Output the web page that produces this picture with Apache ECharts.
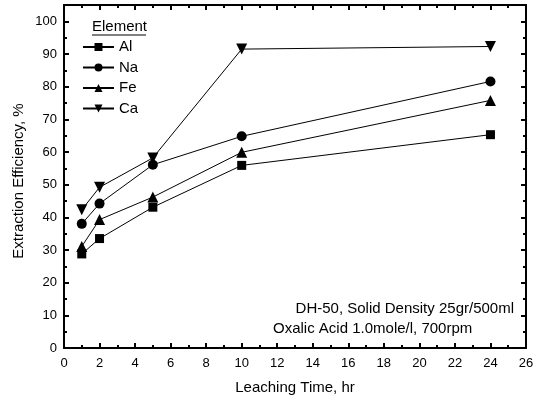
<!DOCTYPE html>
<html>
<head>
<meta charset="utf-8">
<script src="https://cdn.jsdelivr.net/npm/echarts@6/dist/echarts.min.js"></script>
<style>
  html, body { margin: 0; padding: 0; background: #fff; }
  #chart { width: 542px; height: 401px; }
</style>
</head>
<body>
<div id="chart"></div>
<script>
// leaching time (hr)
var hours = [1, 2, 5, 10, 24];

// extraction efficiency, %
var al = [28.8, 33.5, 43.1, 55.9, 65.3];
var na = [38.0, 44.2, 56.1, 64.8, 81.6];
var fe = [31.1, 39.3, 46.2, 59.9, 75.8];
var ca = [42.3, 49.2, 58.2, 91.5, 92.3];

var seriesNames = ['Al', 'Na', 'Fe', 'Ca'];
var noteLines = ['DH-50, Solid Density 25gr/500ml', 'Oxalic Acid 1.0mole/l, 700rpm'];

var FONT = 'Liberation Sans';

function pairs(ys) {
  return hours.map(function (h, i) { return [h, ys[i]]; });
}

function mkSeries(name, ys, symbol, size, rotate) {
  return {
    name: name,
    type: 'line',
    data: pairs(ys),
    symbol: symbol,
    symbolSize: size,
    symbolRotate: rotate || 0,
    showAllSymbol: true,
    lineStyle: { color: '#000', width: 1 },
    itemStyle: { color: '#000' },
    emphasis: { disabled: true },
    z: 3
  };
}

var chart = echarts.init(document.getElementById('chart'));

// common axis look: inside ticks, black frame
var tickStyle = { show: true, inside: true, length: 5, lineStyle: { color: '#000', width: 2 } };
var minorStyle = { show: true, splitNumber: 2, length: 3, lineStyle: { color: '#000', width: 2 } };

var option = {
  animation: false,
  backgroundColor: '#fff',
  textStyle: { fontFamily: FONT },
  grid: { left: 64, right: 16, top: 5, bottom: 53 },
  legend: {
    left: 82,
    top: 39,
    padding: 0,
    orient: 'vertical',
    itemWidth: 31,
    itemHeight: 10,
    itemGap: 4.5,
    data: seriesNames,
    textStyle: { fontFamily: FONT, fontSize: 15, lineHeight: 16, color: '#000' },
    inactiveColor: '#000'
  },
  xAxis: [{
    type: 'value',
    min: 0, max: 26, interval: 2,
    position: 'bottom',
    name: 'Leaching Time, hr',
    nameLocation: 'middle',
    nameGap: 32,
    nameTextStyle: { fontFamily: FONT, fontSize: 15, color: '#000' },
    axisLine: { onZero: false, lineStyle: { color: '#000', width: 2 } },
    axisTick: tickStyle,
    minorTick: minorStyle,
    axisLabel: { color: '#000', fontSize: 13, fontFamily: FONT, margin: 9 },
    splitLine: { show: false }
  }, {
    type: 'value',
    min: 0, max: 26, interval: 2,
    position: 'top',
    axisLine: { onZero: false, lineStyle: { color: '#000', width: 2 } },
    axisTick: tickStyle,
    minorTick: minorStyle,
    axisLabel: { show: false },
    splitLine: { show: false }
  }],
  yAxis: [{
    type: 'value',
    min: 0, max: 105, interval: 10,
    position: 'left',
    axisLine: { show: true, onZero: false, lineStyle: { color: '#000', width: 2 } },
    axisTick: tickStyle,
    minorTick: minorStyle,
    axisLabel: {
      color: '#000', fontSize: 13, fontFamily: FONT, margin: 7,
      formatter: function (v) { return v % 10 === 0 ? String(v) : ''; }
    },
    splitLine: { show: false }
  }, {
    type: 'value',
    min: 0, max: 105, interval: 10,
    position: 'right',
    axisLine: { show: true, onZero: false, lineStyle: { color: '#000', width: 2 } },
    axisTick: tickStyle,
    minorTick: minorStyle,
    axisLabel: { show: false },
    splitLine: { show: false }
  }],
  series: [
    mkSeries('Al', al, 'rect', 9),
    mkSeries('Na', na, 'circle', 10),
    mkSeries('Fe', fe, 'triangle', 11),
    mkSeries('Ca', ca, 'triangle', 11, 180)
  ],
  graphic: [
    {
      // y axis title, set a bit below the plot centre as in the source
      type: 'text',
      x: 19, y: 181,
      rotation: Math.PI / 2,
      style: {
        text: 'Extraction Efficiency, %', fontFamily: FONT, fontSize: 15, fill: '#000',
        align: 'center', verticalAlign: 'middle'
      }
    },
    {
      type: 'text',
      left: 92, top: 19,
      style: { text: 'Element', fontFamily: FONT, fontSize: 15, fill: '#000' }
    },
    {
      type: 'line',
      shape: { x1: 92, y1: 35, x2: 146, y2: 35 },
      style: { stroke: '#000', lineWidth: 1 }
    },
    {
      type: 'text',
      right: 28, top: 301,
      style: { text: noteLines[0], fontFamily: FONT, fontSize: 15, fill: '#000', align: 'right' }
    },
    {
      type: 'text',
      left: 273, top: 321,
      style: { text: noteLines[1], fontFamily: FONT, fontSize: 15, fill: '#000' }
    }
  ]
};

chart.setOption(option);
</script>
</body>
</html>
